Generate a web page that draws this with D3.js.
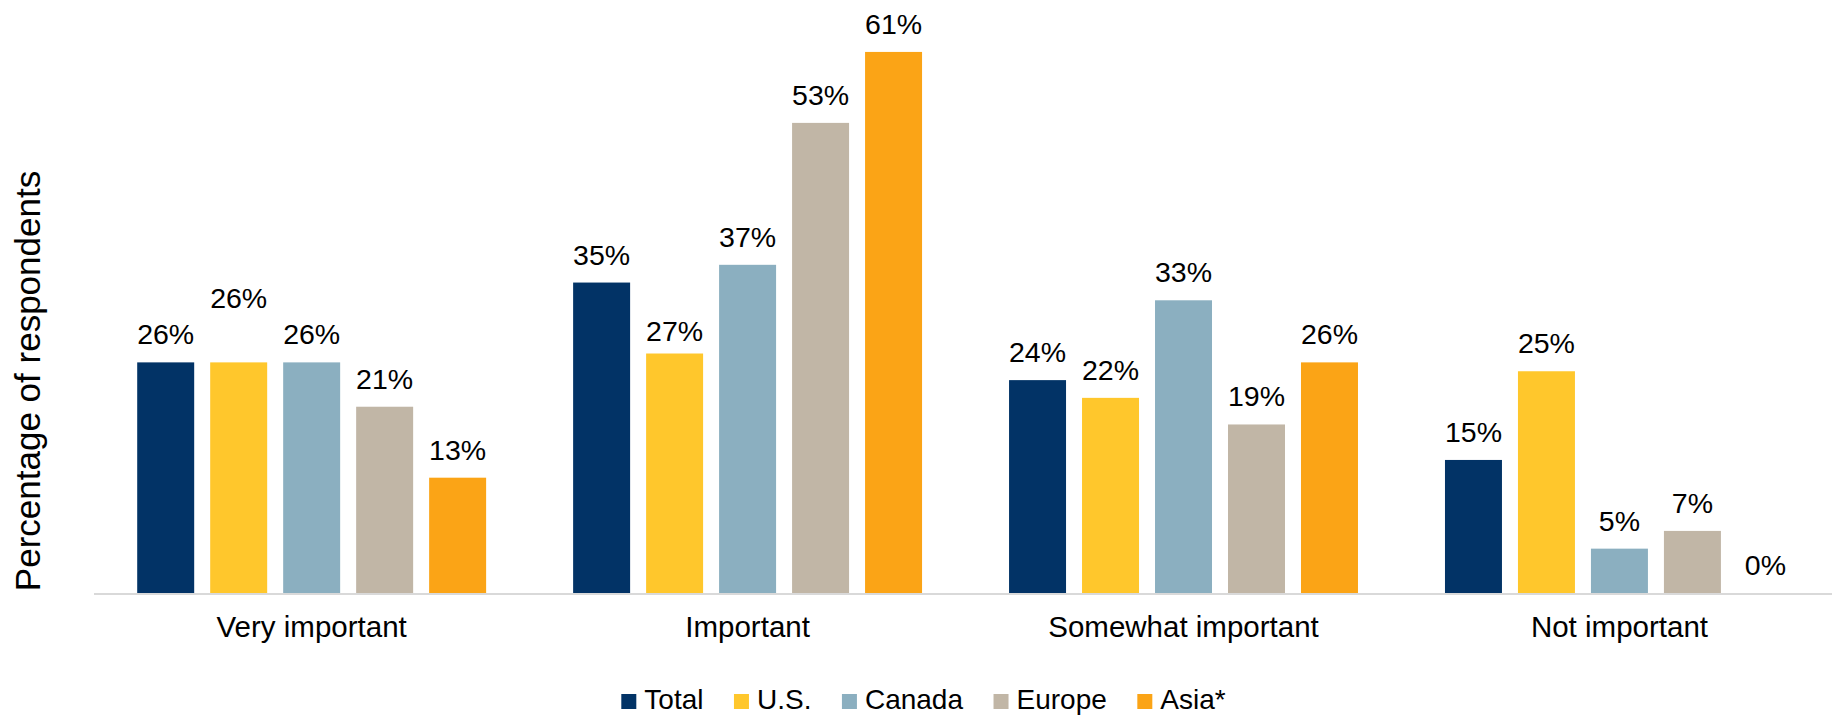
<!DOCTYPE html>
<html>
<head>
<meta charset="utf-8">
<script src="https://cdn.jsdelivr.net/npm/d3@7"></script>
<style>
  html, body { margin: 0; padding: 0; background: #ffffff; }
  svg { display: block; }
  text { font-family: "Liberation Sans", Arial, sans-serif; fill: #000; }
</style>
</head>
<body>
<svg id="chart" width="1832" height="716"></svg>
<script>
// ---- data ----
const categories = ["Very important", "Important", "Somewhat important", "Not important"];
const seriesNames = ["Total", "U.S.", "Canada", "Europe", "Asia*"];
const totalValues  = [26, 35, 24, 15];
const usValues     = [26, 27, 22, 25];
const canadaValues = [26, 37, 33, 5];
const europeValues = [21, 53, 19, 7];
const asiaValues   = [13, 61, 26, 0];
const yAxisTitle = "Percentage of respondents";

// ---- style ----
const colors = ["#023366", "#FFC72C", "#8BAFC0", "#C1B6A6", "#FBA416"];
const seriesValues = [totalValues, usValues, canadaValues, europeValues, asiaValues];
// label collision nudges (Excel moved these labels)
const labelNudge = { "Very important|U.S.": -36, "Important|U.S.": 5 };

const svg = d3.select("#chart");
const baseY = 593;
const y = d3.scaleLinear().domain([0, 65]).range([baseY, baseY - 65 * 8.87]);
const x0 = d3.scaleBand().domain(categories).range([93.7, 1837.4]).padding(0);
const x1 = d3.scaleBand().domain(seriesNames).range([0, x0.bandwidth()])
  .paddingInner(16 / 73).paddingOuter(0.596);

const rows = [];
categories.forEach((c, ci) => {
  seriesNames.forEach((s, si) => {
    rows.push({ cat: c, series: s, value: seriesValues[si][ci], color: colors[si] });
  });
});

// bars
svg.append("g").selectAll("rect").data(rows).join("rect")
  .attr("x", d => x0(d.cat) + x1(d.series))
  .attr("y", d => y(d.value))
  .attr("width", x1.bandwidth())
  .attr("height", d => y(0) - y(d.value))
  .attr("fill", d => d.color);

// baseline axis
const xAxis = d3.axisBottom(x0).tickSize(0).tickPadding(0);
const axisG = svg.append("g").attr("transform", `translate(0,${baseY})`).call(xAxis);
axisG.select(".domain").attr("stroke", "#D9D9D9").attr("stroke-width", 2)
  .attr("d", `M94,1H1832`);
axisG.selectAll(".tick text")
  .attr("y", 44)
  .attr("dy", 0)
  .style("font-size", "29.5px")
  .style("font-family", '"Liberation Sans", Arial, sans-serif')
  .attr("fill", "#000");

// value labels
svg.append("g").selectAll("text").data(rows).join("text")
  .attr("x", d => x0(d.cat) + x1(d.series) + x1.bandwidth() / 2)
  .attr("y", d => y(d.value) - 18 + (labelNudge[d.cat + "|" + d.series] || 0))
  .attr("text-anchor", "middle")
  .style("font-size", "28.5px")
  .text(d => d.value + "%");

// y axis title
svg.append("text")
  .attr("transform", "translate(40,381) rotate(-90)")
  .attr("text-anchor", "middle")
  .style("font-size", "35px")
  .text(yAxisTitle);

// legend
const legend = svg.append("g");
const legendGap = 30.5;
let cx = 0;
seriesNames.forEach((s, i) => {
  const g = legend.append("g");
  g.append("rect").attr("x", 0).attr("y", -15).attr("width", 15).attr("height", 15).attr("fill", colors[i]);
  const t = g.append("text").attr("x", 23).attr("y", 0).style("font-size", "28px").text(s);
  const w = 23 + t.node().getComputedTextLength();
  g.attr("transform", `translate(${cx},0)`);
  cx += w + legendGap;
});
const legendWidth = cx - legendGap;
legend.attr("transform", `translate(${923.5 - legendWidth / 2},709)`);
</script>
</body>
</html>
